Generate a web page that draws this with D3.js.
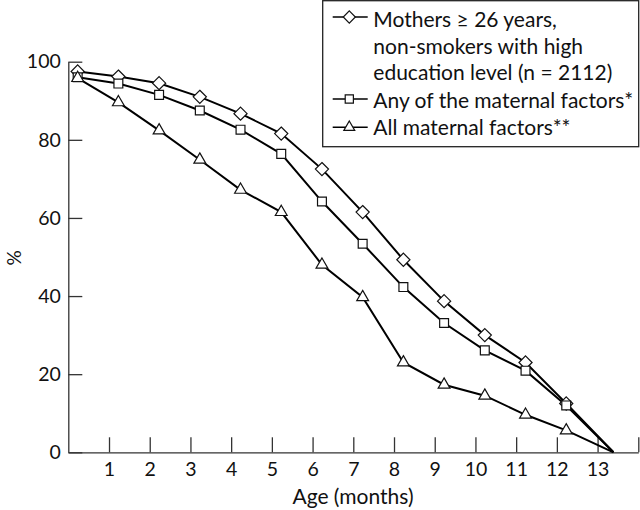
<!DOCTYPE html>
<html>
<head>
<meta charset="utf-8">
<script src="https://cdn.jsdelivr.net/npm/d3@7"></script>
<style>
  html, body { margin: 0; padding: 0; background: #fff; }
  svg { display: block; font-family: Lato, "Open Sans", sans-serif; }
</style>
</head>
<body>
<svg id="chart" width="640" height="510"></svg>
<script>
// ---- data ----
const ages = [0.23, 1.23, 2.23, 3.23, 4.23, 5.23, 6.23, 7.23, 8.23, 9.23, 10.23, 11.23, 12.23, 13.39];
const highEducation = [97.5, 96.2, 94.5, 91.0, 86.7, 81.6, 72.5, 61.5, 49.3, 38.7, 30.0, 23.0, 12.5, 0];
const anyFactor = [96.0, 94.4, 91.5, 87.5, 82.6, 76.4, 64.2, 53.4, 42.3, 33.1, 26.1, 20.9, 12.0, 0];
const allFactors = [95.8, 89.6, 82.4, 74.9, 67.2, 61.5, 48.0, 39.7, 23.0, 17.3, 14.5, 9.6, 5.6, 0];
const xTicks = [1, 2, 3, 4, 5, 6, 7, 8, 9, 10, 11, 12, 13, 14];
const xTickLabels = ["1", "2", "3", "4", "5", "6", "7", "8", "9", "10", "11", "12", "13", ""];
const yTicks = [0, 20, 40, 60, 80, 100];
const seriesNames = ["highEducation", "anyFactor", "allFactors"];
const legendLines = [
  ["Mothers \u2265 26 years,", "non-smokers with high", "education level (n = 2112)"],
  ["Any of the maternal factors*"],
  ["All maternal factors**"]
];

const svg = d3.select("#chart");
const x = d3.scaleLinear().domain([0, 14]).range([68.3, 638.3]);
const y = d3.scaleLinear().domain([0, 100]).range([452.3, 61.7]);

const axisColor = "#333";

// axes
const xAxis = d3.axisBottom(x).tickValues(xTicks)
  .tickFormat((d, i) => xTickLabels[i]).tickSize(-15).tickSizeOuter(0).tickPadding(9.5);
const gx = svg.append("g").attr("transform", `translate(0,${y(0)})`).call(xAxis);
const yAxis = d3.axisLeft(y).tickValues(yTicks).tickSize(-14).tickSizeOuter(0).tickPadding(7.5);
const gy = svg.append("g").attr("transform", `translate(${x(0)},0)`).call(yAxis);
[gx, gy].forEach(g => {
  g.selectAll("path, line").attr("stroke", axisColor).attr("stroke-width", 1.3);
  g.selectAll("text").attr("fill", "#111").style("font-size", "19.5px").style("font-family", "Lato, sans-serif");
});

// axis titles
svg.append("text").attr("x", 353).attr("y", 504).attr("text-anchor", "middle")
  .style("font-size", "21px").attr("fill", "#111").text("Age (months)");
svg.append("text").attr("transform", "translate(21,258) rotate(-90)").attr("text-anchor", "middle")
  .style("font-size", "19px").attr("fill", "#111").text("%");

// series
const series = [
  { name: seriesNames[0], values: highEducation, symbol: d3.symbolDiamond2, size: 110 },
  { name: seriesNames[1], values: anyFactor, symbol: d3.symbolSquare2, size: 100 },
  { name: seriesNames[2], values: allFactors, symbol: d3.symbolTriangle2, size: 100 }
];
const line = d3.line().x(d => x(d[0])).y(d => y(d[1]));

// lines first
series.forEach(s => {
  const pts = ages.map((a, i) => [a, s.values[i]]);
  svg.append("path").datum(pts).attr("d", line)
    .attr("fill", "none").attr("stroke", "#000").attr("stroke-width", 2);
});
// markers
series.forEach(s => {
  const pts = ages.map((a, i) => [a, s.values[i]]).slice(0, ages.length - 1);
  svg.append("g").selectAll("path").data(pts).join("path")
    .attr("transform", d => `translate(${x(d[0])},${y(d[1])})`)
    .attr("d", d3.symbol(s.symbol, s.size))
    .attr("fill", "#fff").attr("stroke", "#111").attr("stroke-width", 1.2);
});

// legend
const lg = svg.append("g");
lg.append("rect").attr("x", 322.7).attr("y", 0.7).attr("width", 316).attr("height", 146)
  .attr("fill", "#fff").attr("stroke", "#222").attr("stroke-width", 1.3);
const legendRowY = [17, 99, 127.3];
const legendBaselines = [[27, 53.5, 80], [107.5], [135]];
series.forEach((s, i) => {
  const cy = legendRowY[i];
  lg.append("line").attr("x1", 332.7).attr("x2", 367.7).attr("y1", cy).attr("y2", cy)
    .attr("stroke", "#000").attr("stroke-width", 1.6);
  lg.append("path").attr("transform", `translate(349.3,${cy})`)
    .attr("d", d3.symbol(s.symbol, s.size * 0.85))
    .attr("fill", "#fff").attr("stroke", "#111").attr("stroke-width", 1.2);
  legendLines[i].forEach((t, j) => {
    lg.append("text").attr("x", 373.3).attr("y", legendBaselines[i][j])
      .style("font-size", "21px").attr("fill", "#111").text(t);
  });
});
</script>
</body>
</html>
